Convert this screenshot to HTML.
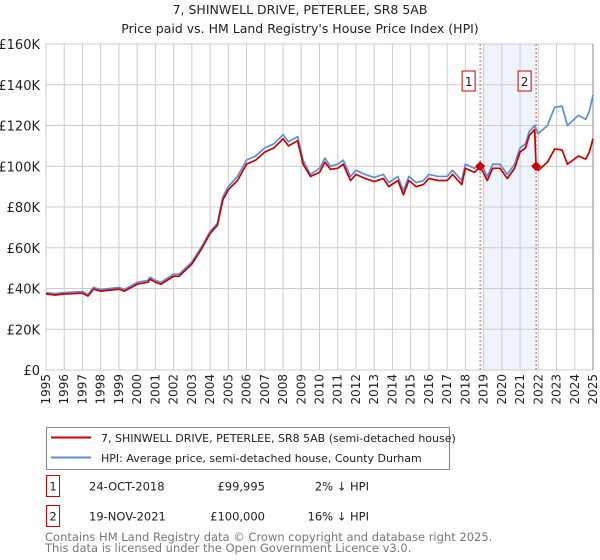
<!DOCTYPE html>
<html><head><meta charset="utf-8"><style>
body{margin:0;background:#fff;font-family:"DejaVu Sans","Liberation Sans",sans-serif;}
#wrap{position:relative;width:600px;height:560px;overflow:hidden;}
</style></head><body>
<div id="wrap">
<svg id="chart" width="600" height="560" font-family="DejaVu Sans, Liberation Sans, sans-serif"></svg>
</div>
<script>
const yTicks=[0,20,40,60,80,100,120,140,160];
const yTickLabels=["£0","£20K","£40K","£60K","£80K","£100K","£120K","£140K","£160K"];
const xYears=[1995,1996,1997,1998,1999,2000,2001,2002,2003,2004,2005,2006,2007,2008,2009,2010,2011,2012,2013,2014,2015,2016,2017,2018,2019,2020,2021,2022,2023,2024,2025];
const hpiT=[1995,1995.5,1996,1997,1997.3,1997.6,1998,1999,1999.3,2000,2000.6,2000.7,2001,2001.3,2002,2002.3,2003,2003.5,2004,2004.4,2004.7,2005,2005.5,2006,2006.5,2007,2007.5,2008,2008.3,2008.8,2009.1,2009.5,2010,2010.3,2010.6,2011,2011.3,2011.7,2012,2012.5,2013,2013.5,2013.8,2014.3,2014.6,2014.9,2015.3,2015.7,2016,2016.5,2017,2017.3,2017.8,2018,2018.5,2018.9,2019.2,2019.5,2019.9,2020.3,2020.7,2021,2021.3,2021.5,2021.8,2022,2022.5,2022.9,2023.3,2023.6,2024.2,2024.6,2024.8,2025];
const hpiV=[38,37.5,38,38.5,37,40.5,39.5,40.5,39.5,43,44,45.5,44,43,47,47,53,60,68,72,85,90,95,103,105,109,111,115.5,112,114.5,103,96,99,104,100,101,103,95,98,96,94.5,96,92,95,88,95,92,93,96,95,95,98,93,101,99,101,95,101,101,96,101,109,111,117,120,116,120,129,129.5,120,125,123,127,135];
const redT=[1995,1995.5,1996,1997,1997.3,1997.6,1998,1999,1999.3,2000,2000.6,2000.7,2001,2001.3,2002,2002.3,2003,2003.5,2004,2004.4,2004.7,2005,2005.5,2006,2006.5,2007,2007.5,2008,2008.3,2008.8,2009.1,2009.5,2010,2010.3,2010.6,2011,2011.3,2011.7,2012,2012.5,2013,2013.5,2013.8,2014.3,2014.6,2014.9,2015.3,2015.7,2016,2016.5,2017,2017.3,2017.8,2018,2018.5,2018.81,2019.2,2019.5,2019.9,2020.3,2020.7,2021,2021.3,2021.5,2021.8,2021.88,2022,2022.5,2022.9,2023.3,2023.6,2024.2,2024.6,2024.8,2025];
const redV=[37.3,36.8,37.3,37.7,36.3,39.7,38.7,39.7,38.7,42.1,43.1,44.6,43.1,42.1,46,46,52,59,67,71,83.5,88.5,93,101,103,107,109,113.5,110,112.5,101,95,97,102,98.5,99,101,93,96,94,92.5,94,90,93,86,93,90,91,94,93,93,96,91,99,97,99.995,93,99,99,94,99,107,109,115,118,100,98,102,108.5,108,101,105,103.5,107,113.5];
const sales=[{n:"1",t:2018.81,v:99.995},{n:"2",t:2021.88,v:100}];
const X0=46,X1=593,Y0=370,Y1=44;
const xs=t=>X0+(t-1995)/30*(X1-X0);
const ys=v=>Y0-v/160*(Y0-Y1);
const svg=document.getElementById('chart');
const NS="http://www.w3.org/2000/svg";
function mk(tag,attrs,text){const e=document.createElementNS(NS,tag);for(const k in attrs)e.setAttribute(k,attrs[k]);if(text!==undefined)e.textContent=text;svg.appendChild(e);return e;}
let e;
e=mk('text',{x:300,y:14,'text-anchor':'middle','font-size':12.5,fill:'#222'},'7, SHINWELL DRIVE, PETERLEE, SR8 5AB');


e=mk('text',{x:300,y:33,'text-anchor':'middle','font-size':12.5,fill:'#222'},"Price paid vs. HM Land Registry's House Price Index (HPI)");


e=mk('rect',{x:484,y:Y1,width:xs(sales[1].t)-484,height:Y0-Y1,fill:'#eef3fc'});


xYears.forEach(y=>{
 e=mk('line',{x1:xs(y),x2:xs(y),y1:Y1,y2:Y0,stroke:'#cccccc','stroke-width':1});
 
 
 e=mk('text',{transform:`translate(${xs(y)+4},${Y0+4}) rotate(-90)`,'text-anchor':'end','font-size':12,fill:'#222'},String(y));
 
 
});
yTicks.forEach((v,i)=>{
 e=mk('line',{x1:X0,x2:X1,y1:ys(v),y2:ys(v),stroke:'#cccccc','stroke-width':1});
 
 
 e=mk('text',{x:X0-6,y:ys(v)+5,'text-anchor':'end','font-size':13,fill:'#222'},yTickLabels[i]);
 
 
});
e=mk('line',{x1:X1,x2:X1,y1:Y1,y2:Y0,stroke:'#888','stroke-width':1});


sales.forEach(s=>{
 e=mk('line',{x1:xs(s.t),x2:xs(s.t),y1:Y1,y2:Y0,stroke:'#e05050','stroke-width':1,'stroke-dasharray':'2,2'});
 
 
});
e=mk('polyline',{points:hpiT.map((t,i)=>xs(t)+','+ys(hpiV[i])).join(' '),fill:'none',stroke:'#5b8fd6','stroke-width':1.7,'stroke-linejoin':'round'});


e=mk('polyline',{points:redT.map((t,i)=>xs(t)+','+ys(redV[i])).join(' '),fill:'none',stroke:'#cc0000','stroke-width':1.7,'stroke-linejoin':'round'});


sales.forEach(s=>{
 const cx=xs(s.t),cy=ys(s.v);
 e=mk('polygon',{points:`${cx},${cy-5} ${cx+5},${cy} ${cx},${cy+5} ${cx-5},${cy}`,fill:'#cc0000'});
 
 
 e=mk('rect',{x:cx-18,y:71,width:13,height:20,fill:'#fff',stroke:'#cc0000','stroke-width':1});
 
 
 e=mk('text',{x:cx-11.5,y:86,'text-anchor':'middle','font-size':12,fill:'#222'},s.n);
 
 
});
e=mk('rect',{x:46.5,y:427.5,width:403,height:42,fill:'#fff',stroke:'#888'});


e=mk('line',{x1:51,x2:91,y1:437.5,y2:437.5,stroke:'#cc0000','stroke-width':2});


e=mk('text',{x:101,y:442,'font-size':11,fill:'#222'},'7, SHINWELL DRIVE, PETERLEE, SR8 5AB (semi-detached house)');


e=mk('line',{x1:51,x2:91,y1:457.5,y2:457.5,stroke:'#5b8fd6','stroke-width':2});


e=mk('text',{x:101,y:462,'font-size':11,fill:'#222'},'HPI: Average price, semi-detached house, County Durham');


const rows=[["1","24-OCT-2018","£99,995","2% ↓ HPI",494],["2","19-NOV-2021","£100,000","16% ↓ HPI",524]];
rows.forEach(r=>{
 e=mk('rect',{x:46.5,y:r[4]-18.5,width:13,height:21,fill:'#fff',stroke:'#cc0000'});
 
 
 e=mk('text',{x:53,y:r[4]-3.5,'text-anchor':'middle','font-size':11.5,fill:'#222'},r[0]);
 
 
 e=mk('text',{x:89,y:r[4]-3.5,'font-size':11.5,fill:'#222'},r[1]);
 
 
 e=mk('text',{x:265,y:r[4]-3.5,'text-anchor':'end','font-size':11.5,fill:'#222'},r[2]);
 
 
 e=mk('text',{x:369,y:r[4]-3.5,'text-anchor':'end','font-size':11.5,fill:'#222'},r[3]);
 
 
});
e=mk('text',{x:45,y:541,'font-size':11.5,fill:'#777'},'Contains HM Land Registry data © Crown copyright and database right 2025.');


e=mk('text',{x:45,y:552,'font-size':11.5,fill:'#777'},'This data is licensed under the Open Government Licence v3.0.');


</script>
</body></html>
